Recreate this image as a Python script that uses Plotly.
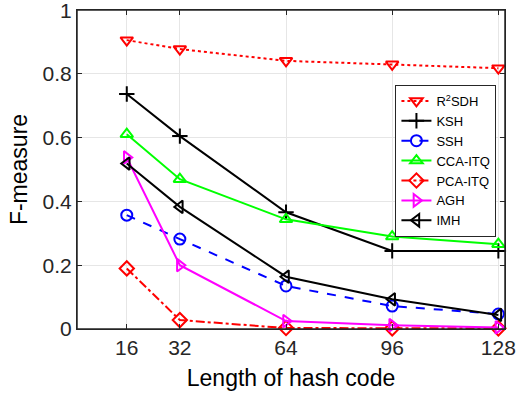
import plotly.graph_objects as go

bits = [16, 32, 64, 96, 128]
r2sdh = [0.906, 0.878, 0.841, 0.830, 0.818]
ksh = [0.737, 0.605, 0.366, 0.245, 0.245]
ssh = [0.357, 0.282, 0.135, 0.072, 0.047]
cca_itq = [0.611, 0.470, 0.344, 0.290, 0.266]
pca_itq = [0.190, 0.028, 0.003, 0.002, 0.002]
agh = [0.538, 0.200, 0.025, 0.012, 0.005]
imh = [0.519, 0.383, 0.164, 0.093, 0.044]
yticks = [0, 0.2, 0.4, 0.6, 0.8, 1]
ytick_text = ["0", "0.2", "0.4", "0.6", "0.8", "1"]

series = [
    ("R<sup>2</sup>SDH", r2sdh, "#ff0000", "dot", "triangle-down-open"),
    ("KSH", ksh, "#000000", "solid", "cross-thin-open"),
    ("SSH", ssh, "#0000ff", "dash", "circle-open"),
    ("CCA-ITQ", cca_itq, "#00ff00", "solid", "triangle-up-open"),
    ("PCA-ITQ", pca_itq, "#ff0000", "dashdot", "diamond-open"),
    ("AGH", agh, "#ff00ff", "solid", "triangle-right-open"),
    ("IMH", imh, "#000000", "solid", "triangle-left-open"),
]

fig = go.Figure()
for name, vals, col, dash, sym in series:
    fig.add_trace(go.Scatter(
        x=bits, y=vals, name=name, mode="lines+markers",
        line=dict(color=col, width=2, dash=dash),
        marker=dict(symbol=sym, size=11, color=col, line=dict(width=2, color=col)),
        cliponaxis=False,
    ))

axis_common = dict(
    showline=True, linecolor="#262626", linewidth=1, mirror="allticks",
    ticks="inside", ticklen=5, tickcolor="#262626",
    showgrid=True, gridcolor="#e6e6e6", gridwidth=1, zeroline=False,
    automargin=False, ticklabeloverflow="allow",
    tickfont=dict(family="Liberation Sans, Arial", size=21, color="#262626"),
)

fig.update_layout(
    width=526, height=400,
    margin=dict(l=77, r=21, t=10, b=71),
    paper_bgcolor="white", plot_bgcolor="white",
    font=dict(family="Liberation Sans, Arial", color="#262626"),
    xaxis=dict(range=[1, 130], tickvals=bits, ticktext=[str(b) for b in bits],
               title=dict(text="Length of hash code", font=dict(size=23, color="#000000"), standoff=11),
               **axis_common),
    yaxis=dict(range=[0, 1.0005], tickvals=yticks, ticktext=ytick_text,
               title=dict(text="F-measure", font=dict(size=23, color="#000000"), standoff=8),
               **axis_common),
    legend=dict(x=0.862, y=0.765, xanchor="center", yanchor="top",
                bgcolor="white", bordercolor="#262626", borderwidth=1,
                font=dict(size=13, color="#000000"), tracegroupgap=0,
                itemwidth=30),
    showlegend=True,
    shapes=[dict(type="rect", xref="paper", yref="paper", x0=0, x1=1, y0=0, y1=1,
                 line=dict(color="#262626", width=1.5), layer="above")],
)

fig.write_html("out.html", config={"displayModeBar": False},
               post_script="document.body.style.margin='0px';")
